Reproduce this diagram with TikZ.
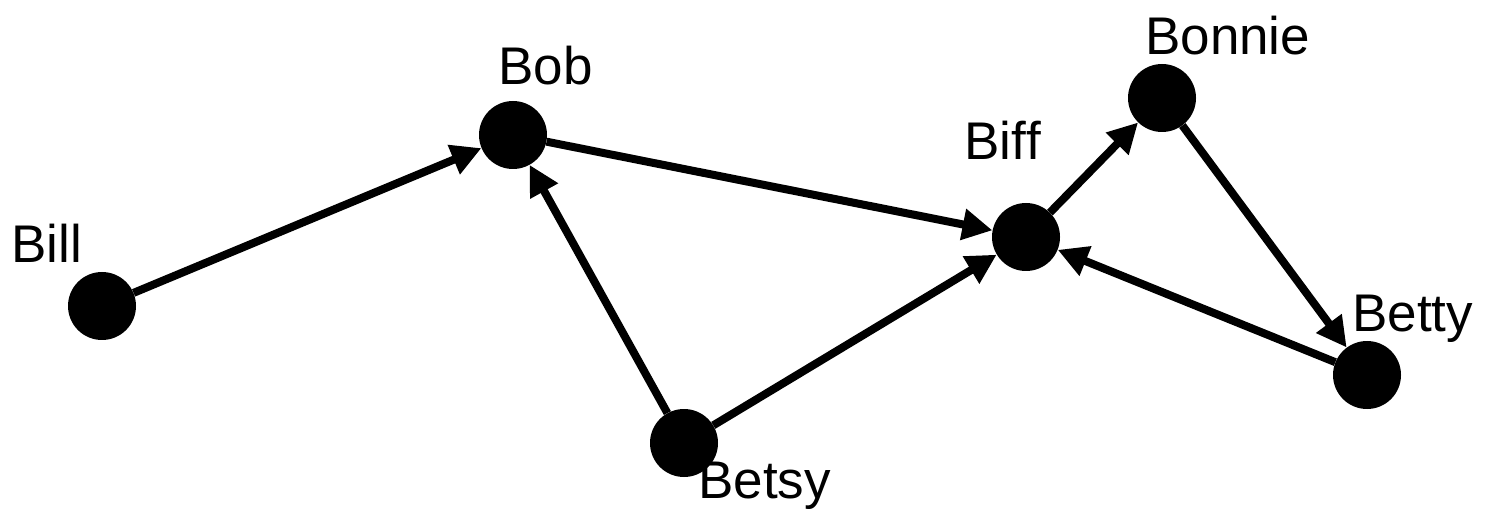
\documentclass[tikz,border=0pt]{standalone}
\usepackage{fontspec}
\setmainfont{Liberation Sans}
\usetikzlibrary{arrows.meta}
\begin{document}
\begin{tikzpicture}[x=1pt,y=-1pt,
  person/.style={circle,fill=black,minimum size=68pt,inner sep=0pt},
  lbl/.style={anchor=base west,inner sep=0pt,font=\fontsize{53}{60}\selectfont},
  link/.style={line width=8pt,-{Triangle[length=30pt,width=30pt]}}]
\useasboundingbox (0,0) rectangle (1485,510);
\node[person] (bill) at (102,306) {};
\node[person] (bob) at (513,135) {};
\node[person] (biff) at (1026,237) {};
\node[person] (bonnie) at (1162,98) {};
\node[person] (betty) at (1367,375) {};
\node[person] (betsy) at (684,443) {};
\node[lbl] (tbill) at (11,263) {Bill};
\node[lbl] (tbob) at (498,85) {Bob};
\node[lbl] (tbiff) at (964,160) {Bif\kern0ptf};
\node[lbl] (tbonnie) at (1145,55) {Bonnie};
\node[lbl] (tbetty) at (1352,332) {Betty};
\node[lbl] (tbetsy) at (698,498) {Betsy};
\draw[link] (bill) -- (bob);
\draw[link] (bob) -- (biff);
\draw[link] (betsy) -- (bob);
\draw[link] (betsy) -- (biff);
\draw[link] (biff) -- (bonnie);
\draw[link] (bonnie) -- (betty);
\draw[link] (betty) -- (biff);
\end{tikzpicture}
\end{document}
